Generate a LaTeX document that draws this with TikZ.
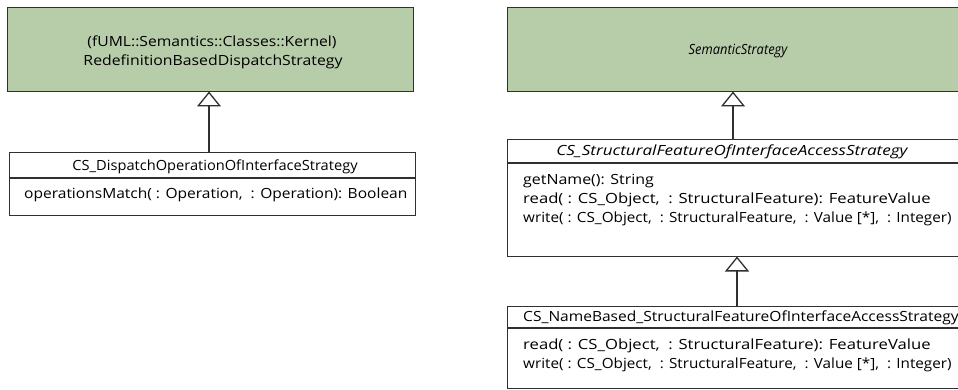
\documentclass[tikz,border=0pt]{standalone}
\usepackage{fontspec}
\setmainfont{Open Sans}
\usetikzlibrary{arrows.meta}
\definecolor{umlgreen}{HTML}{B7CCA9}
\definecolor{umlline}{HTML}{303030}
\newcommand{\umlfont}[1]{\fontsize{14}{16}\selectfont\addfontfeature{FakeStretch=#1}}
\newcommand{\dsp}{\ \ }
\tikzset{
  box/.style={draw=umlline, line width=1.3pt, inner sep=0pt, anchor=north west},
  green/.style={box, fill=umlgreen},
  txt/.style={inner sep=0pt, text=black},
  gen/.style={draw=umlline, line width=1.3pt, -{Triangle[open, length=15pt, width=24pt, fill=white]}},
  divider/.style={draw=umlline, line width=1.3pt},
}
\begin{document}
\begin{tikzpicture}[x=1pt, y=-1pt]
\useasboundingbox (0,0) rectangle (958,390);
\clip (0,0) rectangle (958,390);
\fill[white] (0,0) rectangle (958,390);
% left column
\node[green, minimum width=406pt, minimum height=84pt] (rbds) at (7,7) {};
\node[txt, font=\umlfont{1.12}] (rbdsa) at (212,42) {(fUML::Semantics::Classes::Kernel)};
\node[txt, font=\umlfont{1.13}] (rbdsb) at (213,62) {RedefinitionBasedDispatchStrategy};
\node[box, minimum width=406pt, minimum height=63pt] (disp) at (9,152) {};
\draw[divider] (9,178) -- (415,178);
\node[txt, font=\umlfont{1.045}] (dispt) at (215,167) {CS\_DispatchOperationOfInterfaceStrategy};
\node[txt, anchor=west, font=\umlfont{1.11}] (dispo) at (24,195) {operationsMatch( : Operation,\dsp: Operation): Boolean};
\coordinate (g1s) at (209,152);
\coordinate (g1e) at (209,91.5);
\draw[gen] (g1s) -- (g1e);
% right column
\node[green, minimum width=470pt, minimum height=84pt] (sem) at (507,7) {};
\node[txt, font=\umlfont{0.92}\itshape] (semt) at (738,51) {SemanticStrategy};
\node[box, minimum width=460pt, minimum height=117pt] (sfa) at (507,139) {};
\draw[divider] (507,163) -- (967,163);
\node[txt, font=\umlfont{1.22}\itshape] (sfat) at (732,152) {CS\_StructuralFeatureOfInterfaceAccessStrategy};
\node[txt, anchor=west, font=\umlfont{1.14}] (sfa1) at (523,181) {getName(): String};
\node[txt, anchor=west, font=\umlfont{1.19}] (sfa2) at (523,200) {read( : CS\_Object,\dsp: StructuralFeature): FeatureValue};
\node[txt, anchor=west, font=\umlfont{1.09}] (sfa3) at (523,219) {write( : CS\_Object,\dsp: StructuralFeature,\dsp: Value [*],\dsp: Integer)};
\coordinate (g2s) at (733,139);
\coordinate (g2e) at (733,91.5);
\draw[gen] (g2s) -- (g2e);
\node[box, minimum width=460pt, minimum height=82pt] (nb) at (507,306) {};
\draw[divider] (507,328) -- (967,328);
\node[txt, anchor=west, font=\umlfont{1.11}] (nbt) at (523,318) {CS\_NameBased\_StructuralFeatureOfInterfaceAccessStrategy};
\node[txt, anchor=west, font=\umlfont{1.19}] (nb1) at (523,346) {read( : CS\_Object,\dsp: StructuralFeature): FeatureValue};
\node[txt, anchor=west, font=\umlfont{1.09}] (nb2) at (523,365) {write( : CS\_Object,\dsp: StructuralFeature,\dsp: Value [*],\dsp: Integer)};
\coordinate (g3s) at (737,306);
\coordinate (g3e) at (737,256.5);
\draw[gen] (g3s) -- (g3e);
\end{tikzpicture}
\end{document}
